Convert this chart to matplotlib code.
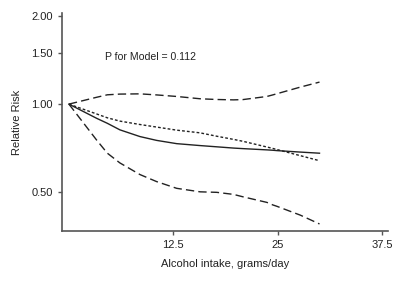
import numpy as np
import matplotlib.pyplot as plt
from matplotlib.ticker import FixedLocator, NullLocator

# alcohol intake, grams/day
dose = [0, 3.3, 4.6, 6.1, 8.5, 10.5, 12.9, 15.7, 17.7, 19.7, 20.8, 23.7, 24.4, 24.9, 27.7, 30]

rr_spline = [1.0, 0.895, 0.860, 0.817, 0.775, 0.752, 0.733, 0.722, 0.715, 0.708, 0.705, 0.698, 0.696, 0.694, 0.686, 0.680]
rr_linear = [1.0, 0.926, 0.898, 0.875, 0.852, 0.835, 0.815, 0.798, 0.777, 0.758, 0.747, 0.714, 0.706, 0.700, 0.667, 0.641]
ci_upper = [1.0, 1.055, 1.076, 1.082, 1.084, 1.075, 1.062, 1.043, 1.037, 1.034, 1.036, 1.062, 1.075, 1.085, 1.143, 1.189]
ci_lower = [1.0, 0.755, 0.680, 0.630, 0.575, 0.544, 0.516, 0.502, 0.500, 0.492, 0.483, 0.462, 0.453, 0.448, 0.418, 0.390]

xticks = [12.5, 25, 37.5]
xtick_labels = ["12.5", "25", "37.5"]
yticks = [0.5, 1.0, 1.5, 2.0]
ytick_labels = ["0.50", "1.00", "1.50", "2.00"]

plt.rcParams['font.family'] = ['Liberation Sans', 'DejaVu Sans']

fig = plt.figure(figsize=(4, 2.91), dpi=100)
ax = fig.add_axes([0.155, 0.205, 0.815, 0.749])

ax.plot(dose, rr_spline, color='#222222', lw=1.0)
ax.plot(dose, rr_linear, color='#222222', lw=1.0, dashes=(2, 1.5))
ax.plot(dose, ci_upper, color='#222222', lw=1.0, dashes=(6, 3))
ax.plot(dose, ci_lower, color='#222222', lw=1.0, dashes=(6, 3))

ax.set_yscale('log')
ax.set_xlim(-0.83, 38.2)
ax.set_ylim(0.368, 2.04)
ax.yaxis.set_major_locator(FixedLocator(yticks))
ax.yaxis.set_minor_locator(NullLocator())
ax.set_yticklabels(ytick_labels)
ax.set_xticks(xticks)
ax.set_xticklabels(xtick_labels)

ax.text(4.3, 1.45, "P for Model = 0.112", fontsize=7.6, va='center', ha='left', color='#222222')

ax.set_xlabel("Alcohol intake, grams/day", fontsize=8, color='#222222', labelpad=6)
ax.set_ylabel("Relative Risk", fontsize=8, color='#222222', labelpad=7)

for side in ['top', 'right']:
    ax.spines[side].set_visible(False)
for side in ['left', 'bottom']:
    ax.spines[side].set_color('#555555')
    ax.spines[side].set_linewidth(1.2)
ax.tick_params(axis='both', labelsize=8, colors='#555555', labelcolor='#222222', length=3, width=1)

fig.savefig("out.png", dpi=100)
